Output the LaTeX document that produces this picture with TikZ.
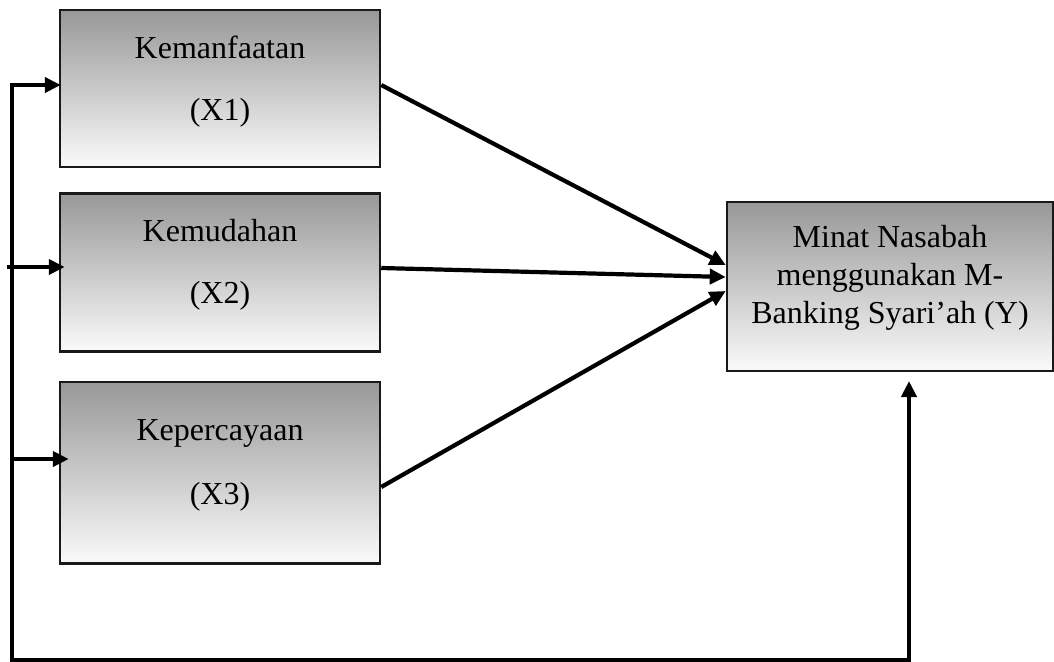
\documentclass[tikz,border=0pt]{standalone}
\usepackage{fontspec}
\setmainfont{Liberation Serif}
\usetikzlibrary{arrows.meta}
\definecolor{boxtop}{RGB}{152,152,152}
\definecolor{boxbot}{RGB}{250,250,250}
\definecolor{edgegray}{RGB}{25,25,25}
\newcommand\mydeep[1]{\rule[-#1]{0pt}{#1}}
\begin{document}
\begin{tikzpicture}[x=1pt,y=-1pt,
  box/.style={draw=edgegray, line width=2.5pt, top color=boxtop, bottom color=boxbot,
    align=center, inner sep=0pt, font=\fontsize{32}{62}\selectfont},
  arr/.style={line width=4.2pt, line join=miter, -{Triangle[length=16pt,width=15pt]}},
  arrboth/.style={line width=4.2pt, line join=miter,
    {Triangle[length=16pt,width=15pt]}-{Triangle[length=16pt,width=15pt]}}]
\useasboundingbox (0,0) rectangle (1054,661);

\node[box, minimum width=320pt, minimum height=157pt] (X1) at (220,88.5)
  {Kemanfaatan\\(X1)\mydeep{20pt}};
\node[box, minimum width=320pt, minimum height=158pt] (X2) at (220,272.5)
  {Kemudahan\\(X2)\mydeep{23pt}};
\node[box, minimum width=320pt, minimum height=181.5pt, font=\fontsize{32}{64}\selectfont] (X3) at (220,472.5)
  {Kepercayaan\\(X3)\mydeep{20pt}};
\node[box, minimum width=326pt, minimum height=169pt, font=\fontsize{32}{38}\selectfont] (Y) at (890,286.5)
  {Minat Nasabah\\menggunakan M-\\Banking Syari’ah (Y)\mydeep{25pt}};

\coordinate (L1) at (12,85);
\coordinate (Lb) at (12,660.5);
\coordinate (Br) at (909,660.5);
\coordinate (tipY) at (909,381);
\coordinate (J2) at (7,267);
\coordinate (J3) at (12,459);

\draw[arrboth] ([xshift=2pt,yshift=3.5pt]X1.west) -- (L1) -- (Lb) -- (Br) -- (tipY);
\draw[arr] (J2) -- ([xshift=6pt,yshift=5.5pt]X2.west);
\draw[arr] (J3) -- ([xshift=10pt,yshift=13.5pt]X3.west);

\draw[arr] ([yshift=3.5pt]X1.east) -- ([yshift=21.5pt]Y.west);
\draw[arr] ([yshift=4.5pt]X2.east) -- ([yshift=9.5pt]Y.west);
\draw[arr] ([yshift=-14.5pt]X3.east) -- ([yshift=-4.5pt]Y.west);
\end{tikzpicture}
\end{document}
